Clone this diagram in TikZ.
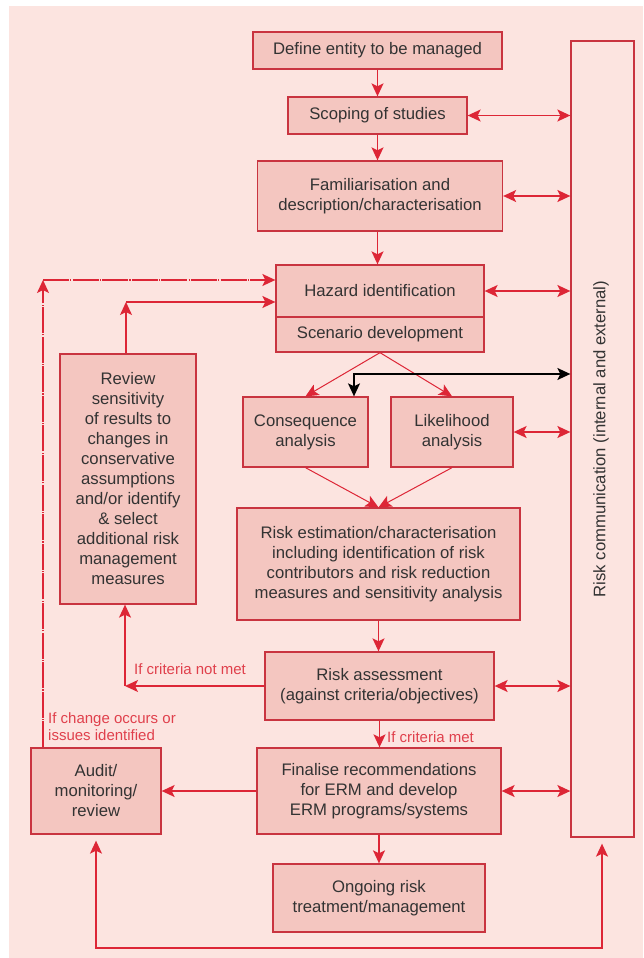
\documentclass[tikz,border=0pt]{standalone}
\usepackage{fontspec}
\setmainfont{Liberation Sans}
\usetikzlibrary{arrows.meta}
\definecolor{bgpink}{HTML}{FCE4E0}
\definecolor{boxfill}{HTML}{F4C6C0}
\definecolor{boxline}{HTML}{C93440}
\definecolor{arrred}{HTML}{DD2636}
\definecolor{txt}{HTML}{333333}
\definecolor{lblred}{HTML}{E0404C}
\begin{document}
\begin{tikzpicture}[x=1pt,y=-1pt,
  box/.style={draw=boxline, fill=boxfill, line width=1.3pt, inner sep=0pt, align=center, text=txt, font=\fontsize{16.7}{20}\selectfont},
  arr/.style={draw=arrred, line width=1.5pt, -{Stealth[length=13pt,width=12pt,inset=3pt]}},
  biarr/.style={draw=arrred, line width=1.5pt, {Stealth[length=13pt,width=12pt,inset=3pt]}-{Stealth[length=13pt,width=12pt,inset=3pt]}},
  thinarr/.style={draw=arrred, line width=1pt, -{Stealth[length=13pt,width=12pt,inset=3pt]}},
  blkarr/.style={draw=black, line width=1.5pt, {Stealth[length=13pt,width=12pt,inset=3pt]}-{Stealth[length=13pt,width=12pt,inset=3pt]}},
  dasharr/.style={draw=arrred, line width=1.5pt, dash pattern=on 26pt off 1.2pt on 1.2pt off 1.2pt, -{Stealth[length=13pt,width=12pt,inset=3pt]}},
  lbl/.style={text=lblred, inner sep=0pt, align=left, font=\fontsize{15}{17}\selectfont}]
\useasboundingbox (0,0) rectangle (643,958);
\fill[bgpink] (9,6) rectangle (643,958);

% communication box
\node[draw=boxline, line width=1.3pt, minimum width=63pt, minimum height=796pt, inner sep=0pt] (comm) at (602.5,439) {};
\node[rotate=90, text=txt, inner sep=0pt, font=\fontsize{16.7}{20}\selectfont] (commtxt) at (601,439) {Risk communication (internal and external)};

% main column
\node[box, minimum width=249pt, minimum height=37pt] (define) at (377.5,50.5) {Define entity to be managed};
\node[box, minimum width=179pt, minimum height=37pt] (scope) at (377.5,115.5) {Scoping of studies};
\node[box, minimum width=245pt, minimum height=70pt] (famil) at (380,196) {Familiarisation and\\description/characterisation};
\node[box, minimum width=208pt, minimum height=52pt] (hazard) at (380,291) {Hazard identification};
\node[box, minimum width=208pt, minimum height=35pt] (scen) at (380,334.5) {Scenario development};
\node[box, minimum width=125pt, minimum height=70pt] (conseq) at (305.5,432) {Consequence\\analysis};
\node[box, minimum width=122pt, minimum height=70pt] (likeli) at (452,432) {Likelihood\\analysis};
\node[box, minimum width=283pt, minimum height=112pt] (riskest) at (378.5,564) {Risk estimation/characterisation\\including identification of risk\\contributors and risk reduction\\measures and sensitivity analysis};
\node[box, minimum width=229pt, minimum height=68pt] (riskass) at (379.5,686) {Risk assessment\\(against criteria/objectives)};
\node[box, minimum width=244pt, minimum height=86pt] (final) at (379,791) {Finalise recommendations\\for ERM and develop\\ERM programs/systems};
\node[box, minimum width=212pt, minimum height=68pt] (ongoing) at (379,898) {Ongoing risk\\treatment/management};

% left column
\node[box, minimum width=136pt, minimum height=250pt] (review) at (128,479) {Review\\sensitivity\\of results to\\changes in\\conservative\\assumptions\\and/or identify\\\& select\\additional risk\\management\\measures};
\node[box, minimum width=130pt, minimum height=86pt] (audit) at (96,791) {Audit/\\monitoring/\\review};

% labels
\node[lbl, anchor=west] (lnotmet) at (134,669) {If criteria not met};
\node[lbl, anchor=west] (lchange) at (48,726.5) {If change occurs or\\issues identified};
\node[lbl, anchor=west] (lmet) at (387,737) {If criteria met};

% main vertical flow
\draw[arr] (define.south) -- (define.south |- scope.north);
\draw[arr] (scope.south) -- (scope.south |- famil.north);
\draw[arr] (famil.south -| scope.south) -- (scope.south |- hazard.north);
\draw[thinarr] (scen.south) -- (conseq.north);
\draw[thinarr] (scen.south) -- (likeli.north);
\draw[thinarr] (conseq.south) -- (riskest.north);
\draw[thinarr] (likeli.south) -- (riskest.north);
\draw[arr] (riskest.south) -- (riskest.south |- riskass.north);
\draw[arr] (riskass.south) -- (riskass.south |- final.north);
\draw[arr] (final.south) -- (final.south |- ongoing.north);

% links to risk communication
\draw[biarr] (scope.east) -- (scope.east -| comm.west);
\draw[biarr] (famil.east) -- (famil.east -| comm.west);
\draw[biarr] (hazard.east) -- (hazard.east -| comm.west);
\draw[biarr] (likeli.east) -- (likeli.east -| comm.west);
\draw[biarr] (riskass.east) -- (riskass.east -| comm.west);
\draw[biarr] (final.east) -- (final.east -| comm.west);
\coordinate (bkturn) at (354,374);
\draw[blkarr] (conseq.north -| bkturn) -- (bkturn) -- (bkturn -| comm.west);

% feedback loops
\coordinate (nmc) at (125,686);
\draw[arr] (riskass.west) -- (nmc);
\draw[arr] (nmc) -- (nmc |- review.south);
\coordinate (rtop) at (126,302);
\draw[arr] (review.north -| rtop) -- (rtop);
\draw[arr] (rtop) -- (rtop -| hazard.west);
\coordinate (dtop) at (43,280);
\draw[dasharr] (audit.north -| dtop) -- (dtop);
\draw[dasharr] (dtop) -- (dtop -| hazard.west);
\draw[arr] (final.west) -- (audit.east);
\coordinate (bl) at (96,948);
\coordinate (br) at (602,948);
\draw[biarr, shorten <=6pt, shorten >=6pt] (audit.south -| bl) -- (bl) -- (br) -- (comm.south -| br);
\end{tikzpicture}
\end{document}
